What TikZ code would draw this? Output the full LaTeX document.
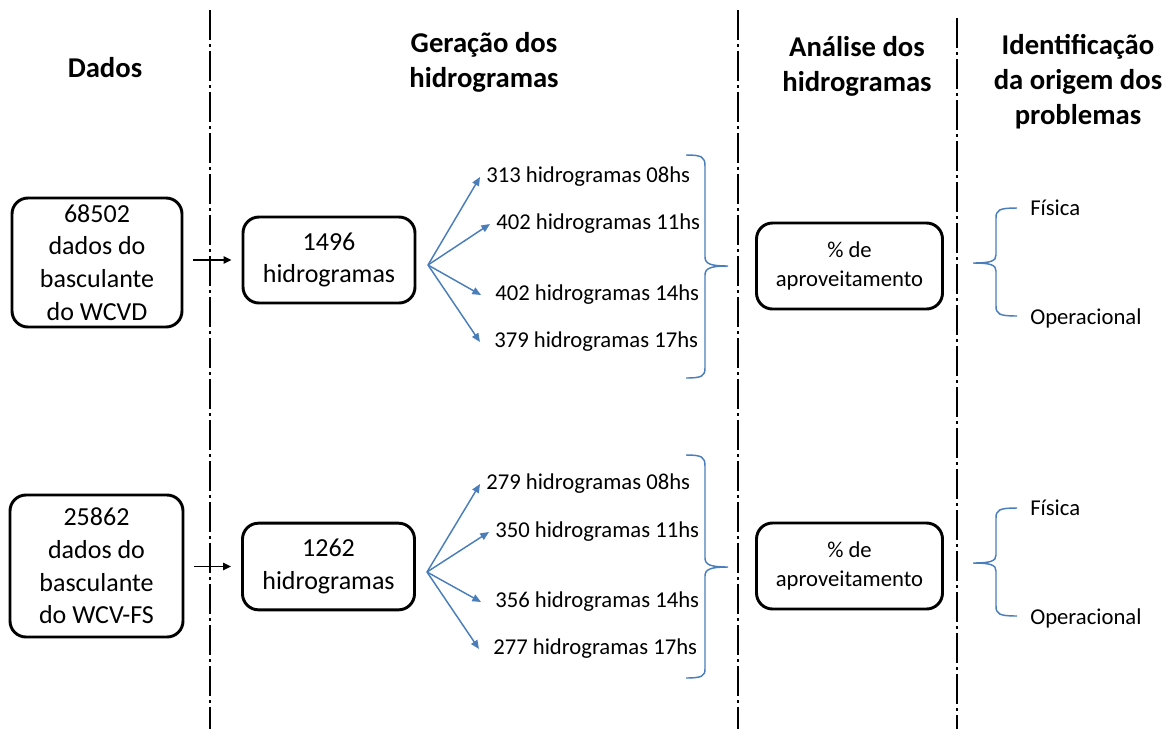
\documentclass[tikz,border=0pt]{standalone}
\usepackage{fontspec}
\setmainfont{Carlito}
\usepackage{tikz}
\usetikzlibrary{arrows.meta,positioning}
\definecolor{officeblue}{HTML}{4A7EBB}
\tikzstyle{stage}=[draw=black,line width=2.2pt,rounded corners=12pt,align=center,inner sep=0pt,font=\fontsize{19.5}{24.5}\selectfont]
\tikzstyle{rate}=[stage,font=\fontsize{17}{21.5}\selectfont]
\tikzstyle{title}=[align=center,font=\bfseries\fontsize{21.5}{26.25}\selectfont]
\tikzstyle{count}=[anchor=west,inner ysep=0pt,inner xsep=4.5pt,font=\fontsize{17}{20}\selectfont]
\tikzstyle{cause}=[anchor=west,inner sep=0pt,font=\fontsize{17}{20}\selectfont]
\tikzstyle{divider}=[line width=2.1pt,dash pattern=on 22.5pt off 3pt on 2.25pt off 3pt]
\tikzstyle{feed}=[line width=1.1pt,-{Triangle[length=6pt,width=5.5pt]},shorten <=7.5pt,shorten >=7.5pt]
\tikzstyle{fan}=[officeblue,line width=1.1pt,-{Triangle[length=6.5pt,width=5.5pt]}]
\tikzstyle{brace}=[officeblue,line width=1.1pt]
\begin{document}
\begin{tikzpicture}[x=0.75pt,y=-0.75pt]
		\useasboundingbox (0,0) rectangle (1175,729);

		% column dividers
		\draw[divider] (210,10) -- (210,729);
		\draw[divider] (738,10) -- (738,729);
		\draw[divider] (957,18) -- (957,729);

		% titles
		\node[title] (tdados) at (105,68) {Dados};
		\node[title] (tgera) at (484,62) {Geração dos\\hidrogramas};
		\node[title] (tanal) at (857,66) {Análise dos\\hidrogramas};
		\node[title] (tiden) at (1078,82) {Identificação\\da origem dos\\problemas};

		% WCVD
		\node[stage,minimum width=127.5pt,minimum height=96.75pt] (d1) at (97,262.5)
			{68502\\dados do\\basculante\\do WCVD};
		\node[stage,minimum width=129pt,minimum height=64.5pt] (g1) at (329,260)
			{1496\\hidrogramas};
		\draw[feed] (d1.east |- g1.west) -- (g1.west);
		\coordinate (fan1) at (428,265);
		\node[count] (h11) at (480,177) {313 hidrogramas 08hs};
		\node[count] (h12) at (490,224) {402 hidrogramas 11hs};
		\node[count,inner xsep=10.5pt] (h13) at (481,295) {402 hidrogramas 14hs};
		\node[count,inner xsep=10.5pt] (h14) at (480,342) {379 hidrogramas 17hs};
		\draw[fan] (fan1) -- (h11.west);
		\draw[fan] (fan1) -- (h12.west);
		\draw[fan] (fan1) -- (h13.west);
		\draw[fan] (fan1) -- (h14.west);
		\draw[brace] (686,155) .. controls (702,155) and (705,157) .. (705,166) -- (705,257)
			.. controls (705,264) and (711,266) .. (728,266)
			.. controls (711,266) and (705,268) .. (705,275) -- (705,368)
			.. controls (705,376) and (702,378) .. (686,378);
		\node[rate,minimum width=139.5pt,minimum height=64.5pt] (a1) at (849.5,266)
			{\% de\\aproveitamento};
		\draw[brace] (1017,208) .. controls (999,208) and (996,210) .. (996,218) -- (996,255)
			.. controls (996,261) and (991,263) .. (973,263)
			.. controls (991,263) and (996,265) .. (996,271) -- (996,306)
			.. controls (996,314) and (999,316) .. (1017,316);
		\node[cause] (f1) at (1030,208) {Física};
		\node[cause] (o1) at (1030,318) {Operacional};

		% WCV-FS
		\node[stage,minimum width=129.75pt,minimum height=106.5pt] (d2) at (96.5,566)
			{25862\\dados do\\basculante\\do WCV-FS};
		\node[stage,minimum width=129pt,minimum height=65pt] (g2) at (328.5,566.5)
			{1262\\hidrogramas};
		\draw[feed] (d2.east |- g2.west) -- (g2.west);
		\coordinate (fan2) at (427,572);
		\node[count] (h21) at (480,484) {279 hidrogramas 08hs};
		\node[count] (h22) at (489,532) {350 hidrogramas 11hs};
		\node[count,inner xsep=10.5pt] (h23) at (481,602) {356 hidrogramas 14hs};
		\node[count,inner xsep=10.5pt] (h24) at (479,649) {277 hidrogramas 17hs};
		\draw[fan] (fan2) -- (h21.west);
		\draw[fan] (fan2) -- (h22.west);
		\draw[fan] (fan2) -- (h23.west);
		\draw[fan] (fan2) -- (h24.west);
		\draw[brace] (686,455) .. controls (702,455) and (705,457) .. (705,466) -- (705,558)
			.. controls (705,565) and (711,567) .. (728,567)
			.. controls (711,567) and (705,569) .. (705,576) -- (705,669)
			.. controls (705,676) and (702,678) .. (686,678);
		\node[rate,minimum width=139.5pt,minimum height=64.5pt] (a2) at (849.5,566)
			{\% de\\aproveitamento};
		\draw[brace] (1017,508) .. controls (999,508) and (996,510) .. (996,518) -- (996,555)
			.. controls (996,561) and (991,563) .. (973,563)
			.. controls (991,563) and (996,565) .. (996,571) -- (996,606)
			.. controls (996,614) and (999,616) .. (1017,616);
		\node[cause] (f2) at (1030,508) {Física};
		\node[cause] (o2) at (1030,618) {Operacional};
	\end{tikzpicture}
\end{document}
